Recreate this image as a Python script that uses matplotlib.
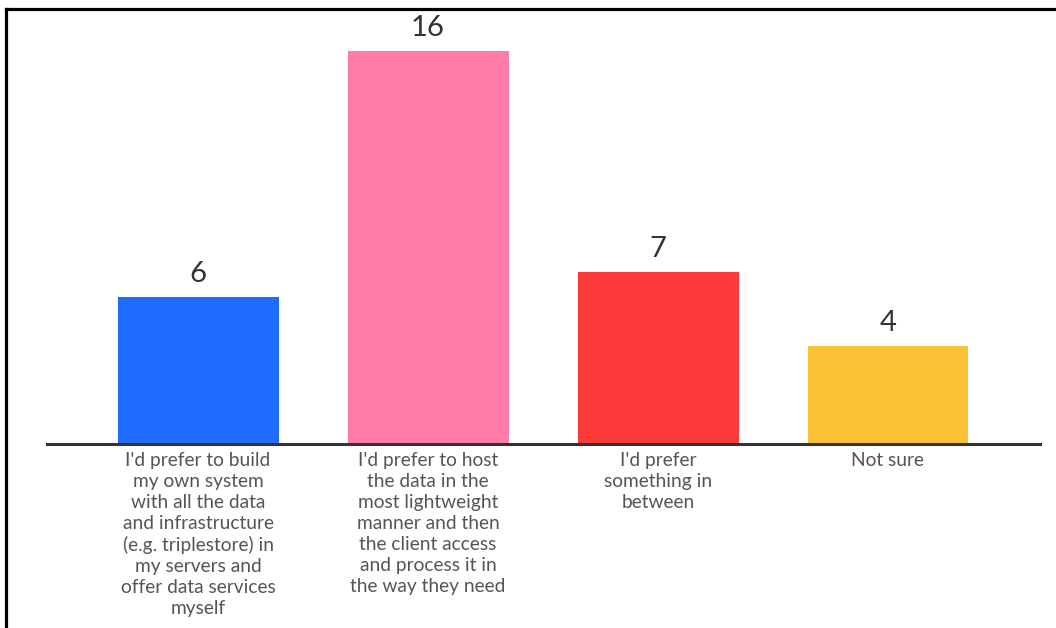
import matplotlib.pyplot as plt
from matplotlib.lines import Line2D

plt.rcParams["font.family"] = ["Lato", "DejaVu Sans"]

# ====== 資料 ======
categories = [
    "I'd prefer to build\nmy own system\nwith all the data\nand infrastructure\n(e.g. triplestore) in\nmy servers and\noffer data services\nmyself",
    "I'd prefer to host\nthe data in the\nmost lightweight\nmanner and then\nthe client access\nand process it in\nthe way they need",
    "I'd prefer\nsomething in\nbetween",
    "Not sure",
]
values = [6, 16, 7, 4]
colors = ["#1F6BFF", "#FF7BA9", "#FF3A3A", "#FDC134"]

# ====== 畫圖 ======
W, H = 1056, 628
fig = plt.figure(figsize=(W / 100, H / 100), dpi=100)
base_y = 444
ax = fig.add_axes([47 / W, (H - base_y) / H, (1040 - 47) / W, (base_y - 10) / H])

x = range(len(values))
ax.bar(x, values, width=0.7, color=colors, zorder=2)

for xi, v in zip(x, values):
    ax.text(xi, v + 0.4, str(v), ha="center", va="bottom",
            fontsize=21, color="#333333")

ax.set_xlim(-0.657, 3.661)
ax.set_ylim(0, 434 / (393 / 16))

ax.set_xticks(list(x))
ax.set_xticklabels(categories, fontsize=13.8, color="#555555",
                   linespacing=1.28, va="top")
ax.tick_params(axis="x", length=0, pad=6)
ax.set_yticks([])

for s in ["top", "right", "left"]:
    ax.spines[s].set_visible(False)
ax.spines["bottom"].set_color("#333333")
ax.spines["bottom"].set_linewidth(2.2)
ax.spines["bottom"].set_zorder(3)

# 外框(左、上)
fig.add_artist(Line2D([6 / W, 6 / W], [0, 1 - 9 / H], color="black",
                      linewidth=2.3, transform=fig.transFigure))
fig.add_artist(Line2D([6 / W, 1], [1 - 9 / H, 1 - 9 / H], color="black",
                      linewidth=2.3, transform=fig.transFigure))

plt.savefig("out.png", dpi=100, facecolor="white")
plt.close()
